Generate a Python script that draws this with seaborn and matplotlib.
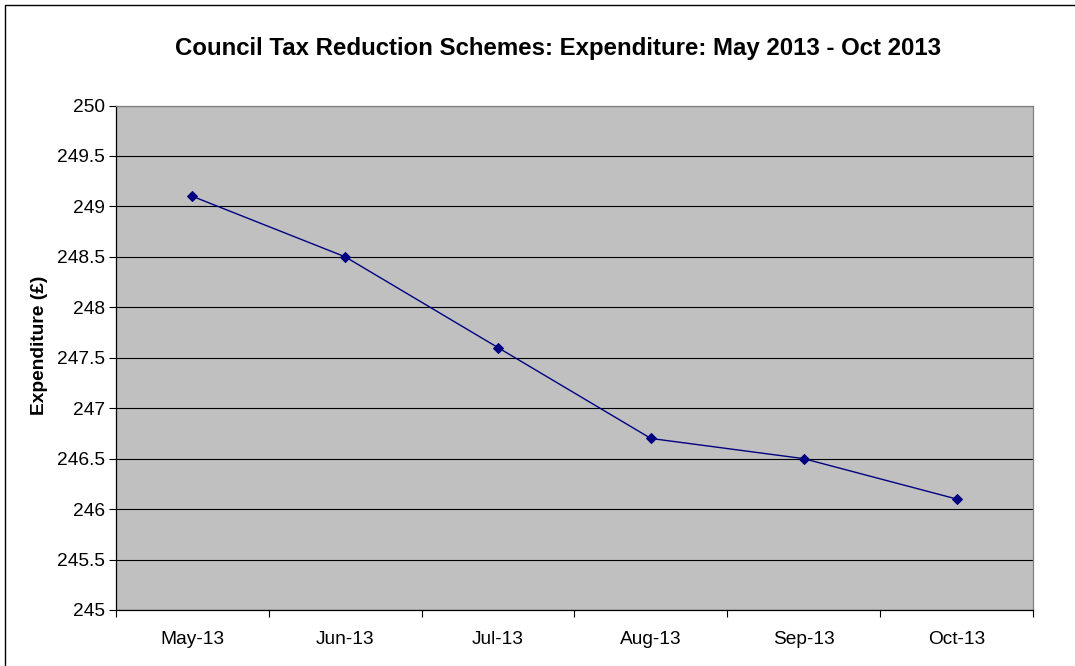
import matplotlib
matplotlib.use("Agg")
import matplotlib.pyplot as plt
from matplotlib.patches import Rectangle
from matplotlib.ticker import FixedLocator, NullFormatter
import seaborn as sns
import pandas as pd

months = ["May-13", "Jun-13", "Jul-13", "Aug-13", "Sep-13", "Oct-13"]
expenditure = [249.1, 248.5, 247.6, 246.7, 246.5, 246.1]
y_ticks = [245, 245.5, 246, 246.5, 247, 247.5, 248, 248.5, 249, 249.5, 250]
y_tick_labels = ["245", "245.5", "246", "246.5", "247", "247.5",
                 "248", "248.5", "249", "249.5", "250"]

sns.set_style("white")
plt.rcParams["font.family"] = ["Liberation Sans", "DejaVu Sans"]
plt.rcParams["text.color"] = "black"
plt.rcParams["axes.labelcolor"] = "black"
plt.rcParams["xtick.color"] = "black"
plt.rcParams["ytick.color"] = "black"

df = pd.DataFrame({"Month": months, "Expenditure": expenditure})

fig = plt.figure(figsize=(10.75, 6.66), dpi=100)
ax = fig.add_axes([116 / 1075, 1 - 610 / 666, (1033 - 116) / 1075, (610 - 105.5) / 666])
ax.set_facecolor("#C0C0C0")

# outer chart frame
fig.patches.append(Rectangle((5 / 1075, -0.05), 1.2, 1 - 5 / 666 + 0.05,
                             transform=fig.transFigure, fill=False,
                             edgecolor="black", linewidth=1.0, zorder=0))

sns.lineplot(data=df, x="Month", y="Expenditure", ax=ax, color="#000080",
             linewidth=1.0, marker="D", markersize=5.5,
             markeredgecolor="#000080", markerfacecolor="#000080",
             sort=False, zorder=3)

ax.set_xlim(-0.5, len(months) - 0.5)
ax.set_ylim(245, 250)
ax.set_yticks(y_ticks)
ax.set_yticklabels(y_tick_labels)
ax.set_xticks(range(len(months)))
ax.set_xticklabels(months)
ax.xaxis.set_minor_locator(FixedLocator([i - 0.5 for i in range(len(months) + 1)]))
ax.xaxis.set_minor_formatter(NullFormatter())

ax.yaxis.grid(True, color="black", linewidth=0.8)
ax.set_axisbelow(True)
ax.tick_params(axis="y", which="major", direction="out", length=5, width=0.8,
               color="black", labelcolor="black", labelsize=13.8, pad=3, left=True)
ax.tick_params(axis="x", which="major", length=0, labelsize=13.8, pad=15,
               labelcolor="black")
ax.tick_params(axis="x", which="minor", direction="out", length=5, width=0.8,
               color="black", bottom=True)

for side in ["left", "bottom"]:
    ax.spines[side].set_color("black")
    ax.spines[side].set_linewidth(0.9)
for side in ["top", "right"]:
    ax.spines[side].set_visible(True)
    ax.spines[side].set_color("#808080")
    ax.spines[side].set_linewidth(0.9)

ax.set_xlabel("")
ax.set_ylabel("Expenditure (£)", fontsize=13.8, fontweight="bold", color="black")
ax.yaxis.set_label_coords(-0.074, 0.525)
fig.text(558 / 1075, 1 - 48 / 666,
         "Council Tax Reduction Schemes: Expenditure: May 2013 - Oct 2013",
         ha="center", va="center", fontsize=17.3, fontweight="bold",
         color="black")

fig.savefig("out.png", dpi=100)
